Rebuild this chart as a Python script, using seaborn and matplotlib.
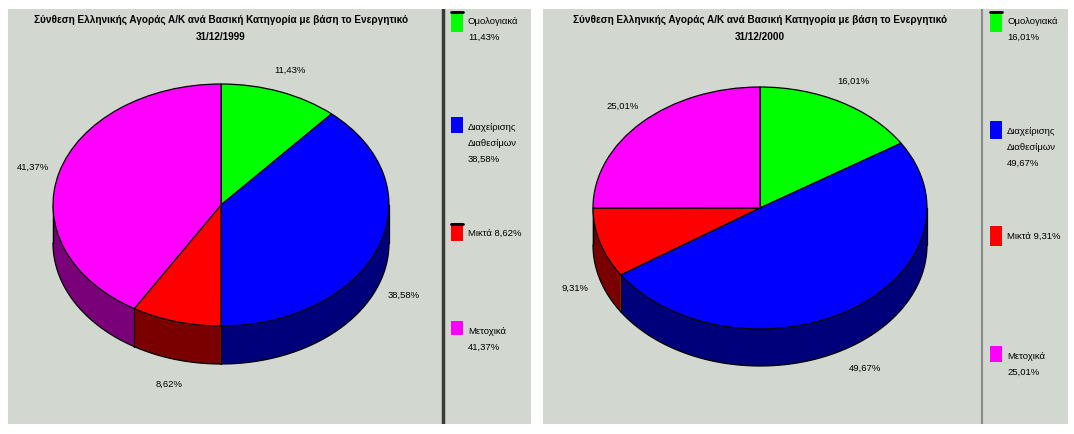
import numpy as np
import matplotlib
matplotlib.use("Agg")
import matplotlib.pyplot as plt
from matplotlib.patches import Polygon, Rectangle
import seaborn as sns

# Fund categories and their share of total assets
categories = ["Ομολογιακά", "Διαχείρισης\nΔιαθεσίμων", "Μικτά", "Μετοχικά"]
shares_1999 = [11.43, 38.58, 8.62, 41.37]
shares_2000 = [16.01, 49.67, 9.31, 25.01]
title_text = "Σύνθεση Ελληνικής Αγοράς Α/Κ ανά Βασική Κατηγορία με βάση το Ενεργητικό"
dates = ["31/12/1999", "31/12/2000"]

sns.set_theme(style="white")
plt.rcParams["font.family"] = ["Liberation Sans", "DejaVu Sans"]

top_colors = sns.color_palette(["#00ff00", "#0000ff", "#ff0000", "#ff00ff"])
side_colors = sns.color_palette(["#007a00", "#00007a", "#7a0000", "#7a007a"])
panel_gray = "#d2d7cf"

W, H = 1074, 435
fig = plt.figure(figsize=(W / 100, H / 100), dpi=100)
fig.patch.set_facecolor("white")


def px_axes(x0, y0, x1, y1, zorder=0):
    return fig.add_axes([x0 / W, 1 - y1 / H, (x1 - x0) / W, (y1 - y0) / H], zorder=zorder)


def fmt(v):
    return f"{v:.2f}".replace(".", ",") + "%"


def draw_panel(values, date, px0, px1, sep_x, sep_color, sep_w, cx, cy, rx, ry,
               depth_px, legend_rows, bordered):
    # background panel in pixel coordinates
    bg = px_axes(px0, 10, px1, 425, zorder=0)
    bg.set_facecolor(panel_gray)
    bg.set_xlim(px0, px1)
    bg.set_ylim(425, 10)
    bg.set_xticks([])
    bg.set_yticks([])
    for s in bg.spines.values():
        s.set_visible(False)
    bg.axvline(sep_x, color=sep_color, lw=sep_w)

    bg.text(cx, 20, title_text, ha="center", va="center", fontsize=7.2,
            fontweight="bold", color="black")
    bg.text(cx, 37, date, ha="center", va="center", fontsize=7.2,
            fontweight="bold", color="black")

    # legend swatches and texts
    sw_x = sep_x + 8
    for (y_top, y_bot), name, val, col, brd in zip(legend_rows, categories, values,
                                                    top_colors, bordered):
        bg.add_patch(Rectangle((sw_x, y_top), 12, y_bot - y_top, facecolor=col,
                               edgecolor="none"))
        if brd:
            bg.plot([sw_x, sw_x + 12], [y_top + 1, y_top + 1], color="black", lw=2)
        if name == "Μικτά":
            label = f"{name} {fmt(val)}"
        else:
            label = f"{name}\n{fmt(val)}"
        bg.text(sw_x + 17, y_top + 5, label, ha="left", va="top", fontsize=6.8,
                color="black", linespacing=2.0)

    # pie axes: unit circle maps to an ellipse rx by ry pixels
    xl, xr, yt, yb = 1.32, 1.32, 1.5, 1.75
    pa = px_axes(cx - xl * rx, cy - yt * ry, cx + xr * rx, cy + yb * ry, zorder=2)
    wedges, _ = pa.pie(values, startangle=90, counterclock=False, colors=top_colors,
                       wedgeprops=dict(edgecolor="black", linewidth=0.9))
    pa.set_aspect("auto")
    pa.set_xlim(-xl, xr)
    pa.set_ylim(-yb, yt)
    pa.axis("off")
    pa.patch.set_visible(False)
    for w in wedges:
        w.set_zorder(3)

    depth = depth_px / ry
    # side walls on the front half of the pie
    for w, scol in zip(wedges, side_colors):
        t1, t2 = w.theta1, w.theta2
        for lo, hi in [(-180, 0), (180, 360)]:
            a, b = max(t1, lo), min(t2, hi)
            if b - a <= 0:
                continue
            t = np.radians(np.linspace(a, b, 80))
            xs, ys = np.cos(t), np.sin(t)
            pts = np.concatenate([np.column_stack([xs, ys]),
                                  np.column_stack([xs[::-1], ys[::-1] - depth])])
            pa.add_patch(Polygon(pts, closed=True, facecolor=scol, edgecolor="none",
                                 zorder=1))
            pa.plot(xs, ys - depth, color="black", lw=0.9, zorder=2)
    # vertical edges at the slice boundaries and at the silhouette
    bounds = sorted({w.theta1 for w in wedges} | {w.theta2 for w in wedges})
    for ang in bounds + [-180.0, 0.0, 180.0]:
        s = np.sin(np.radians(ang))
        c = np.cos(np.radians(ang))
        if s < 1e-9:
            pa.plot([c, c], [s, s - depth], color="black", lw=0.9, zorder=2)

    # percentage labels outside the slices
    for w, val in zip(wedges, values):
        mid = np.radians((w.theta1 + w.theta2) / 2)
        lx, ly = 1.16 * np.cos(mid), 1.2 * np.sin(mid)
        if ly < 0:
            ly -= depth
        pa.text(lx, ly, fmt(val), ha="center", va="center", fontsize=6.8,
                color="black", zorder=4)


draw_panel(shares_1999, dates[0], 8, 531, 443, "#3a3a3a", 2.5,
           221, 206, 168, 121, 38,
           [(12, 33), (118, 134), (224, 242), (322, 336)],
           [True, False, True, False])
draw_panel(shares_2000, dates[1], 543, 1068, 982, "#8a8a8a", 1.5,
           760, 209, 167, 121, 37,
           [(12, 33), (122, 140), (227, 247), (347, 363)],
           [True, False, False, False])

fig.savefig("out.png", dpi=100, facecolor=fig.get_facecolor())
